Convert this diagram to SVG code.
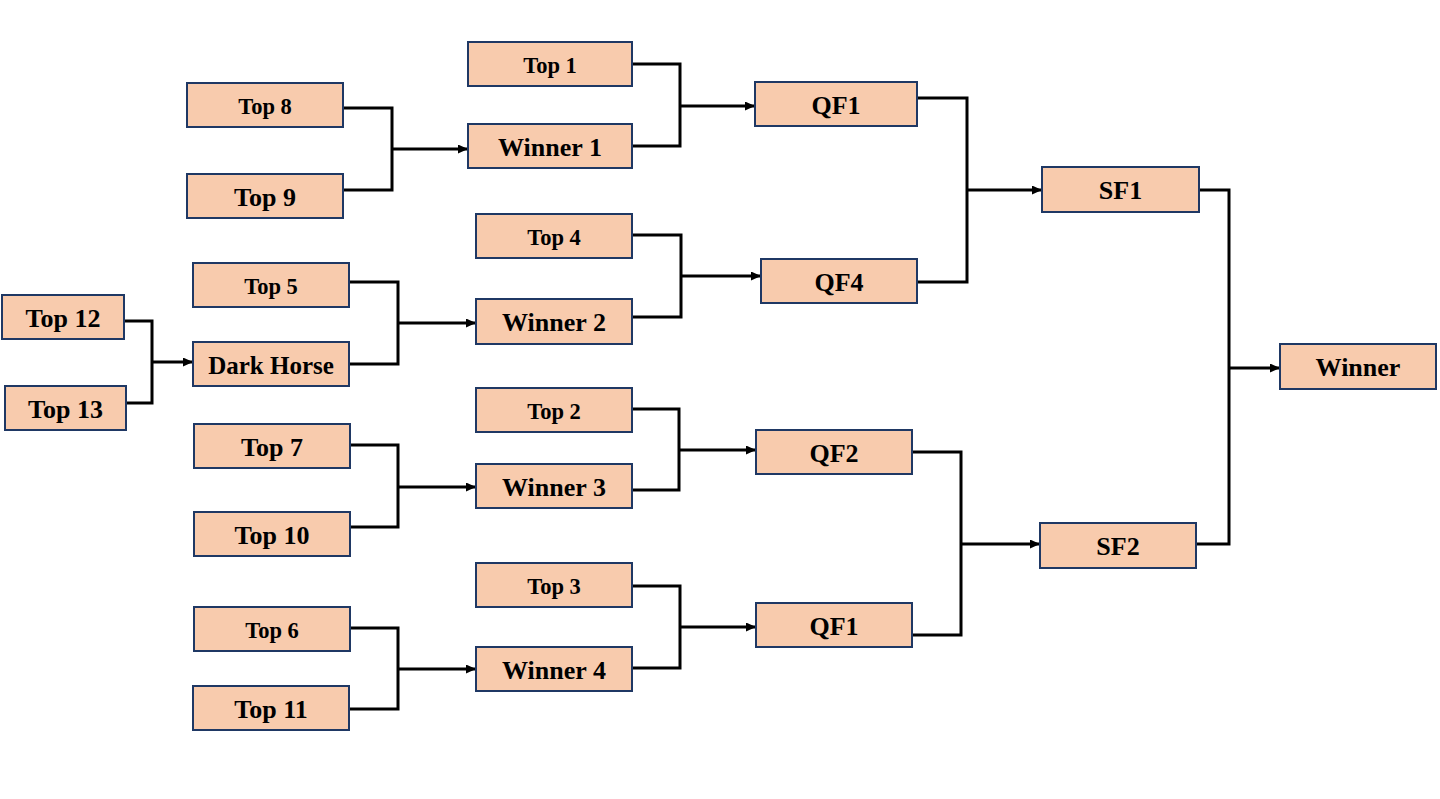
<svg xmlns="http://www.w3.org/2000/svg" width="1440" height="799" viewBox="0 0 1440 799">
<style>
.box{fill:#F8CBAD;stroke:#1F3864;stroke-width:2}
.t{font-family:"Liberation Serif","Times New Roman",serif;font-weight:bold;fill:#000;text-anchor:middle;dominant-baseline:central}
.L{font-size:26px}
.S{font-size:22.5px}
.c{fill:none;stroke:#000;stroke-width:3;stroke-linejoin:miter}
.a{fill:none;stroke:#000;stroke-width:3;marker-end:url(#arr)}
</style>
<defs>
<marker id="arr" markerUnits="userSpaceOnUse" markerWidth="10" markerHeight="9" refX="10" refY="4.5" orient="auto">
<path d="M0,0 L10,4.5 L0,9 z" fill="#000"/>
</marker>
</defs>
<rect width="1440" height="799" fill="#fff"/>
<g id="connectors">
<path class="c" d="M125 321 H152 V403 H126"/><path class="a" d="M152 362 H193"/>
<path class="c" d="M349 282 H398 V364 H349"/><path class="a" d="M398 323 H476"/>
<path class="c" d="M343 108 H392 V190 H343"/><path class="a" d="M392 149 H468"/>
<path class="c" d="M350 445 H398 V527 H350"/><path class="a" d="M398 487 H476"/>
<path class="c" d="M350 628 H398 V709 H349"/><path class="a" d="M398 669 H476"/>
<path class="c" d="M632 64 H680 V146 H632"/><path class="a" d="M680 106 H755"/>
<path class="c" d="M632 235 H681 V317 H632"/><path class="a" d="M681 276 H761"/>
<path class="c" d="M632 409 H679 V490 H632"/><path class="a" d="M679 450 H756"/>
<path class="c" d="M632 586 H680 V668 H632"/><path class="a" d="M680 627 H756"/>
<path class="c" d="M917 98 H967 V282 H917"/><path class="a" d="M967 190 H1042"/>
<path class="c" d="M912 452 H961 V635 H912"/><path class="a" d="M961 544 H1040"/>
<path class="c" d="M1199 190 H1229 V544 H1196"/><path class="a" d="M1229 368 H1280"/>
</g>
<g id="top12"><rect class="box" x="2" y="295" width="122" height="44"/><text class="t L" x="63" y="318">Top 12</text></g>
<g id="top13"><rect class="box" x="5" y="386" width="121" height="44"/><text class="t L" x="65.5" y="409">Top 13</text></g>
<g id="darkhorse"><rect class="box" x="193" y="342" width="156" height="44"/><text class="t" style="font-size:25px" x="271" y="365">Dark Horse</text></g>
<g id="top5"><rect class="box" x="193" y="263" width="156" height="44"/><text class="t S" x="271" y="286">Top 5</text></g>
<g id="top8"><rect class="box" x="187" y="83" width="156" height="44"/><text class="t S" x="265" y="106">Top 8</text></g>
<g id="top9"><rect class="box" x="187" y="174" width="156" height="44"/><text class="t L" x="265" y="197">Top 9</text></g>
<g id="top7"><rect class="box" x="194" y="424" width="156" height="44"/><text class="t L" x="272" y="447">Top 7</text></g>
<g id="top10"><rect class="box" x="194" y="512" width="156" height="44"/><text class="t L" x="272" y="535">Top 10</text></g>
<g id="top6"><rect class="box" x="194" y="607" width="156" height="44"/><text class="t S" x="272" y="630">Top 6</text></g>
<g id="top11"><rect class="box" x="193" y="686" width="156" height="44"/><text class="t L" x="271" y="709">Top 11</text></g>
<g id="top1"><rect class="box" x="468" y="42" width="164" height="44"/><text class="t S" x="550" y="65">Top 1</text></g>
<g id="winner1"><rect class="box" x="468" y="124" width="164" height="44"/><text class="t L" x="550" y="147">Winner 1</text></g>
<g id="top4"><rect class="box" x="476" y="214" width="156" height="44"/><text class="t S" x="554" y="237">Top 4</text></g>
<g id="winner2"><rect class="box" x="476" y="299" width="156" height="45"/><text class="t L" x="554" y="322.5">Winner 2</text></g>
<g id="top2"><rect class="box" x="476" y="388" width="156" height="44"/><text class="t S" x="554" y="411">Top 2</text></g>
<g id="winner3"><rect class="box" x="476" y="464" width="156" height="44"/><text class="t L" x="554" y="487">Winner 3</text></g>
<g id="top3"><rect class="box" x="476" y="563" width="156" height="44"/><text class="t S" x="554" y="586">Top 3</text></g>
<g id="winner4"><rect class="box" x="476" y="647" width="156" height="44"/><text class="t L" x="554" y="670">Winner 4</text></g>
<g id="qf1"><rect class="box" x="755" y="82" width="162" height="44"/><text class="t L" x="836" y="105">QF1</text></g>
<g id="qf4"><rect class="box" x="761" y="259" width="156" height="44"/><text class="t L" x="839" y="282">QF4</text></g>
<g id="qf2"><rect class="box" x="756" y="430" width="156" height="44"/><text class="t L" x="834" y="453">QF2</text></g>
<g id="qf1b"><rect class="box" x="756" y="603" width="156" height="44"/><text class="t L" x="834" y="626">QF1</text></g>
<g id="sf1"><rect class="box" x="1042" y="167" width="157" height="45"/><text class="t L" x="1120.5" y="190.5">SF1</text></g>
<g id="sf2"><rect class="box" x="1040" y="523" width="156" height="45"/><text class="t L" x="1118" y="546.5">SF2</text></g>
<g id="winner"><rect class="box" x="1280" y="344" width="156" height="45"/><text class="t L" x="1358" y="367.5">Winner</text></g>
</svg>
